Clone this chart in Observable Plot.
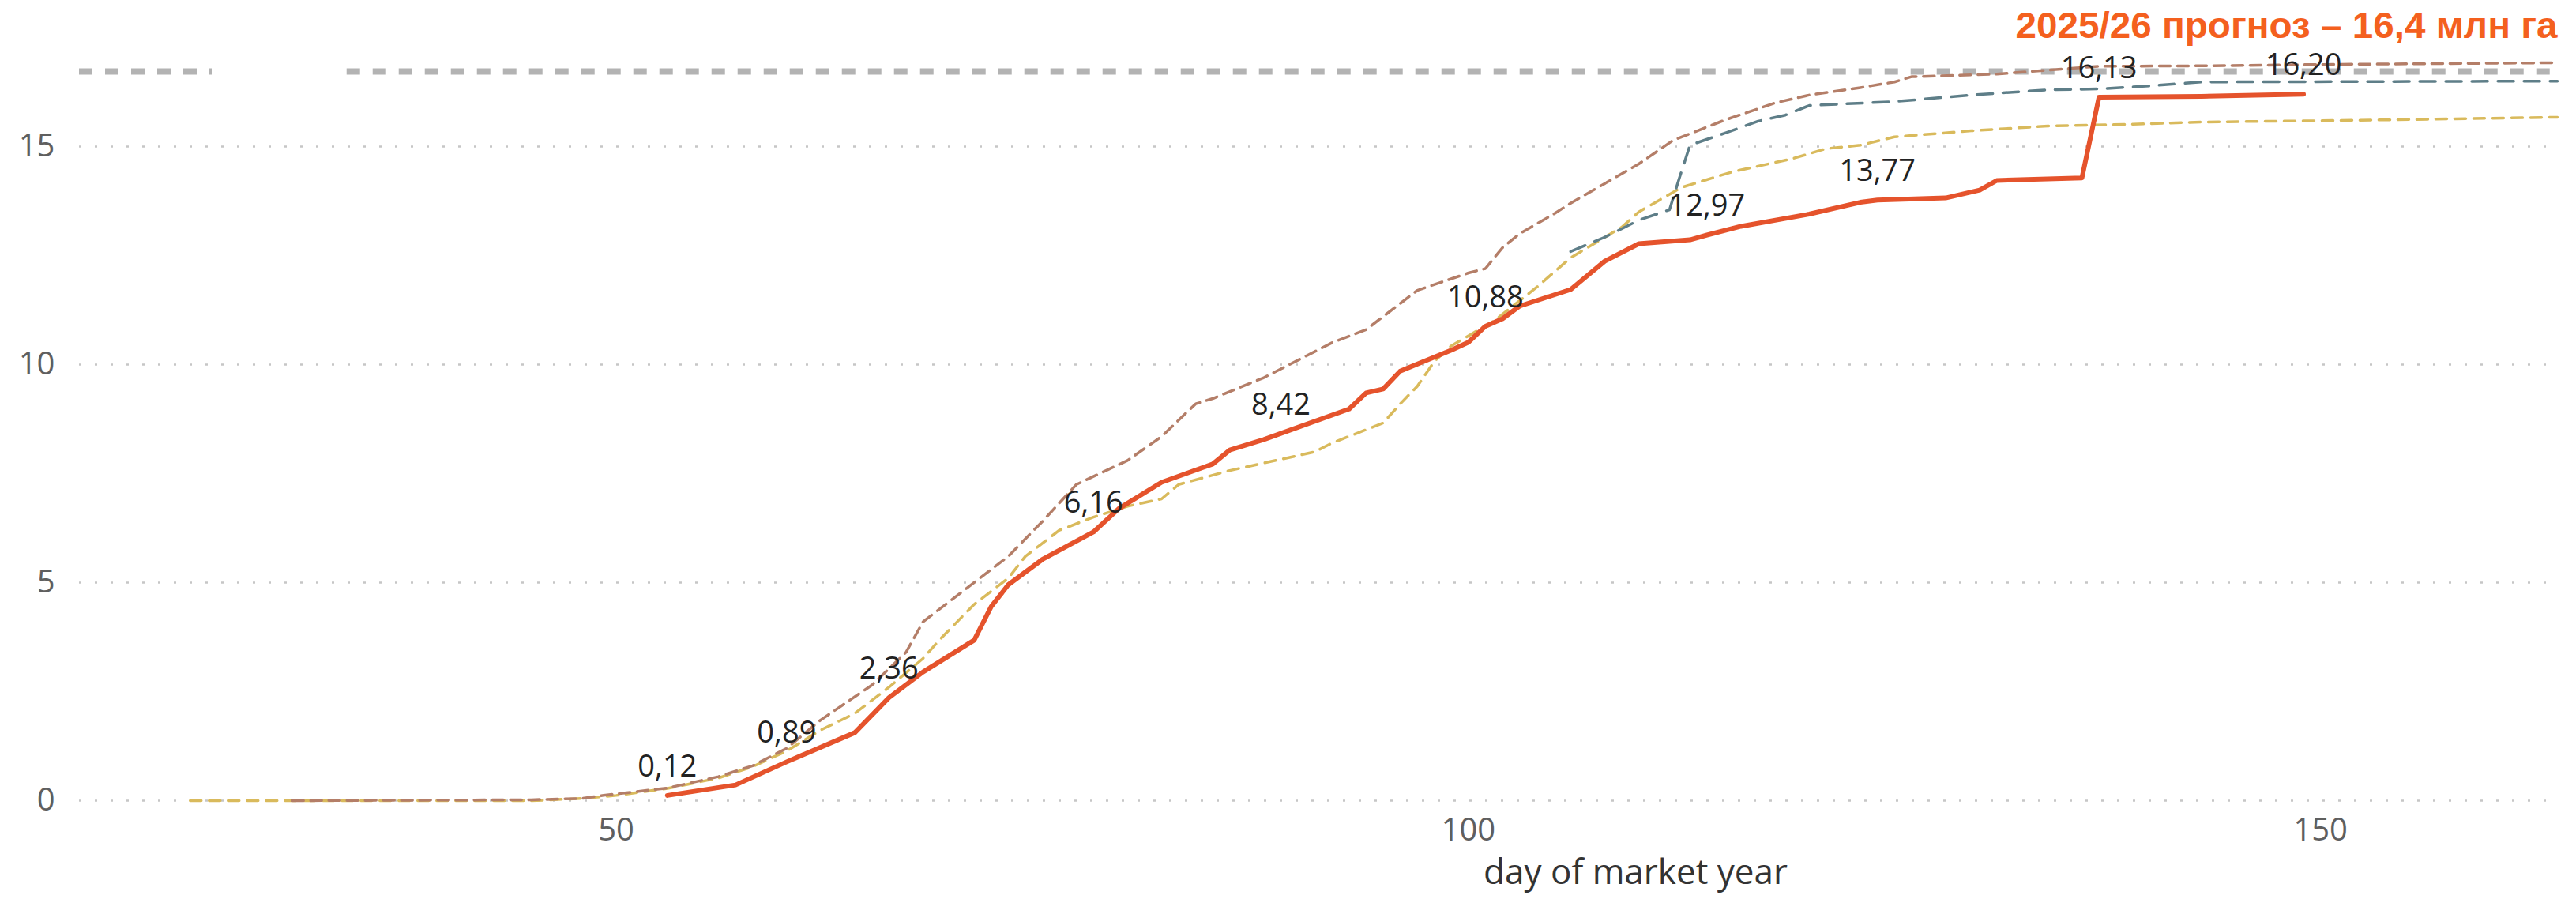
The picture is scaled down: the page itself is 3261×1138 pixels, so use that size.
<!DOCTYPE html>
<html>
<head>
<meta charset="utf-8">
<script src="https://cdn.jsdelivr.net/npm/d3@7"></script>
<script src="https://cdn.jsdelivr.net/npm/@observablehq/plot@0.6"></script>
<style>
  html, body { margin: 0; padding: 0; background: #fff; }
  #chart { width: 3261px; height: 1138px; }
</style>
</head>
<body>
<div id="chart"></div>
<script>
// ---- Data ----
const chartTitle = "2025/26 прогноз – 16,4 млн га";
const xAxisTitle = "day of market year";
const xTicks = [50, 100, 150];
const yTicks = [0, 5, 10, 15];

// 2025/26 (solid red)
const redDays   = [53, 57, 60, 64, 66, 68, 71, 72, 73, 75, 78, 79.5, 82, 85, 86, 88, 89, 93, 94, 95, 96, 99, 100, 101, 102, 103, 106, 108, 110, 113, 114, 116, 120, 123, 124, 128, 130, 131, 136, 137, 143, 149];
const redValues = [0.12, 0.36, 0.89, 1.56, 2.36, 2.95, 3.68, 4.45, 4.95, 5.53, 6.16, 6.70, 7.30, 7.72, 8.04, 8.28, 8.42, 8.98, 9.35, 9.44, 9.85, 10.33, 10.51, 10.88, 11.05, 11.34, 11.72, 12.37, 12.77, 12.86, 12.97, 13.17, 13.45, 13.72, 13.77, 13.82, 14.00, 14.22, 14.28, 16.13, 16.15, 16.20];

// labelled points on the 2025/26 line
const labelDays   = [53, 60, 66, 78, 89, 101, 114, 124, 137, 149];
const labelValues = [0.12, 0.89, 2.36, 6.16, 8.42, 10.88, 12.97, 13.77, 16.13, 16.20];

// brown dashed season
const brownDays   = [31, 45, 48, 49, 53, 56, 58, 60, 62, 65, 67, 68, 71, 73, 75, 77, 80, 82, 84, 85, 88, 89, 92, 94, 96, 97, 100, 101, 102, 103, 105, 106, 110, 112, 115, 118, 120, 123, 125, 126, 131, 133, 137, 143, 150, 163.9];
const brownValues = [0, 0.02, 0.05, 0.11, 0.29, 0.55, 0.80, 1.20, 1.85, 2.65, 3.40, 4.10, 5.00, 5.60, 6.40, 7.25, 7.80, 8.35, 9.10, 9.22, 9.70, 9.90, 10.50, 10.80, 11.40, 11.70, 12.10, 12.20, 12.68, 13.00, 13.45, 13.70, 14.60, 15.14, 15.60, 16.00, 16.18, 16.35, 16.48, 16.60, 16.66, 16.72, 16.84, 16.85, 16.88, 16.92];

// gold dashed season
const goldDays   = [25, 45, 48, 50, 53, 56, 58, 60, 62, 64, 66, 68, 69, 71, 73, 74, 76, 78, 80, 82, 83, 86, 91, 92, 95, 96, 97, 98, 99, 101.5, 104, 106, 109, 110, 112.5, 115.5, 119, 121, 123, 125, 129.5, 134, 139, 143, 152, 163.9];
const goldValues = [0, 0, 0.05, 0.12, 0.28, 0.52, 0.78, 1.14, 1.62, 2.00, 2.60, 3.26, 3.70, 4.50, 5.10, 5.60, 6.20, 6.50, 6.75, 6.92, 7.25, 7.57, 8.00, 8.20, 8.66, 9.10, 9.50, 10.07, 10.43, 11.00, 11.77, 12.45, 13.15, 13.50, 14.06, 14.42, 14.72, 14.95, 15.03, 15.22, 15.36, 15.47, 15.51, 15.56, 15.60, 15.67];

// slate dashed season
const slateDays   = [106, 108, 110, 111.8, 112.3, 113, 115, 117, 118.6, 120, 125, 129.5, 134, 137, 140, 143, 163.9];
const slateValues = [12.59, 12.92, 13.31, 13.55, 14.18, 15.03, 15.30, 15.58, 15.72, 15.94, 16.03, 16.18, 16.30, 16.32, 16.39, 16.48, 16.50];

// grey thick dashed reference level (drawn with a gap as in the source)
const refValue = 16.72;
const refStarts = [18.5, 34.2];
const refEnds   = [26.3, 163.9];

// ---- Build tables ----
const toRows = (xs, ys) => xs.map((d, i) => ({day: d, value: ys[i]}));
const red   = toRows(redDays, redValues);
const brown = toRows(brownDays, brownValues);
const gold  = toRows(goldDays, goldValues);
const slate = toRows(slateDays, slateValues);
const labels = toRows(labelDays, labelValues);
const refSegs = refStarts.map((s, i) => ({x1: s, x2: refEnds[i], y: refValue}));
const fmt = v => v.toFixed(2).replace(".", ",");

const chart = Plot.plot({
  width: 3261,
  height: 1138,
  marginLeft: 100,
  marginRight: 24,
  marginTop: 0,
  marginBottom: 125,
  style: {fontFamily: "'Segoe UI', 'Open Sans', sans-serif", fontSize: "40px", color: "#5f5f5f", background: "#fff", overflow: "visible"},
  x: {domain: [18.5, 163.9], ticks: xTicks, tickSize: 0, tickPadding: 22, label: null},
  y: {domain: [0, 18.35], ticks: yTicks, tickSize: 0, tickPadding: 31, label: null},
  marks: [
    Plot.ruleY(yTicks, {stroke: "#c6c6c6", strokeWidth: 2.5, strokeDasharray: "3,17"}),
    Plot.ruleY(refSegs, {y: "y", x1: "x1", x2: "x2", stroke: "#b3b3b3", strokeWidth: 8, strokeDasharray: "17,16"}),
    Plot.line(gold,  {x: "day", y: "value", stroke: "#d9ba5c", strokeWidth: 3.5, strokeDasharray: "14,10"}),
    Plot.line(brown, {x: "day", y: "value", stroke: "#b47e68", strokeWidth: 3.5, strokeDasharray: "14,9"}),
    Plot.line(slate, {x: "day", y: "value", stroke: "#5e7e88", strokeWidth: 3.5, strokeDasharray: "20,13"}),
    Plot.line(red,   {x: "day", y: "value", stroke: "#e5532c", strokeWidth: 6}),
    Plot.text(labels, {x: "day", y: "value", text: d => fmt(d.value), dy: -24, lineAnchor: "bottom", fill: "#222", fontSize: 38}),
    Plot.text([chartTitle], {frameAnchor: "top-right", lineAnchor: "bottom", textAnchor: "end", dy: 47, fill: "#f4601e", fontWeight: "bold", fontSize: 46, fontFamily: "'Liberation Sans', Arial, sans-serif"}),
    Plot.text([xAxisTitle], {frameAnchor: "bottom-left", textAnchor: "middle", lineAnchor: "bottom", dx: 1970, dy: 105, fill: "#333", fontSize: 44})
  ]
});

// Compress the title to the width it occupies in the source
chart.querySelectorAll("text").forEach(t => {
  if (t.textContent === chartTitle) {
    t.setAttribute("textLength", 686);
    t.setAttribute("lengthAdjust", "spacingAndGlyphs");
  }
});

document.getElementById("chart").appendChild(chart);
</script>
</body>
</html>
